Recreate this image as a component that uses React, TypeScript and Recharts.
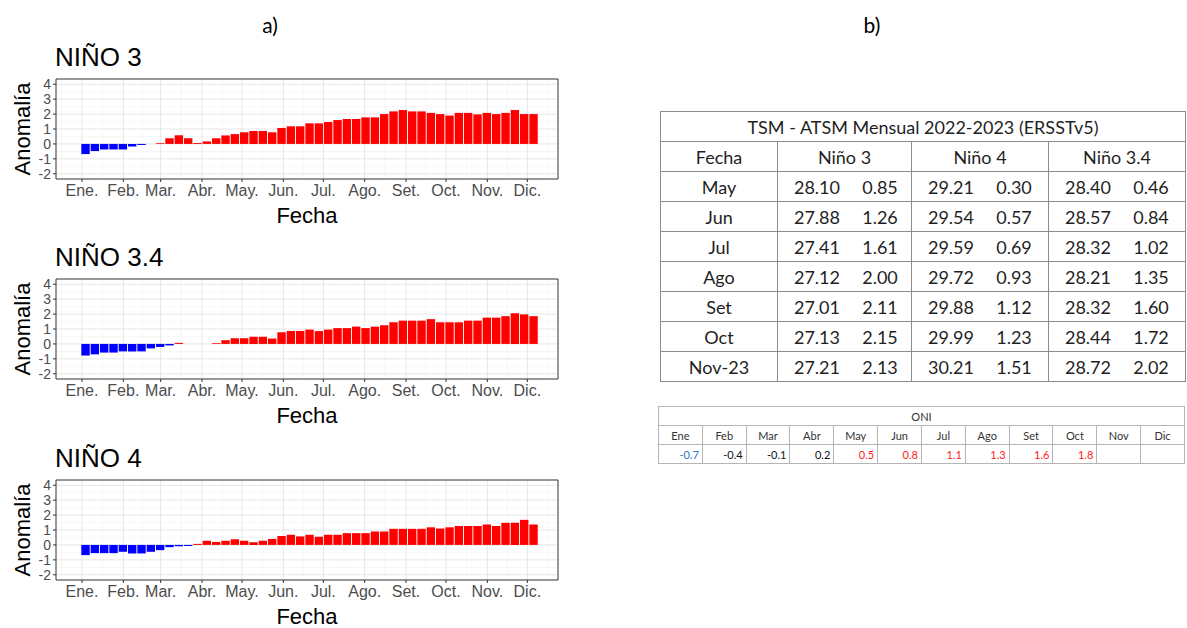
import React from "react";
import { BarChart, Bar, XAxis, YAxis, CartesianGrid, ReferenceArea, Cell, Label } from "recharts";

const FONT_R = "'Liberation Sans', Arial, Helvetica, sans-serif";
const FONT_T = "Lato, 'Open Sans', sans-serif";

// x axis: day of year 2023, month breaks
const monthLabels = ["Ene.", "Feb.", "Mar.", "Abr.", "May.", "Jun.", "Jul.", "Ago.", "Set.", "Oct.", "Nov.", "Dic."];
const monthStarts = [0, 31, 59, 90, 120, 151, 181, 212, 243, 273, 304, 334];
const yTicks = [-2, -1, 0, 1, 2, 3, 4];

// weekly anomalies (weeks centred on Wednesdays, 04-Ene to 06-Dic)
const nino3 = [
  -0.68, -0.48, -0.37, -0.37, -0.37, -0.18, -0.07, 0, 0.05, 0.38, 0.58, 0.38, 0.06, 0.17, 0.38, 0.57,
  0.66, 0.78, 0.87, 0.87, 0.78, 1.07, 1.18, 1.18, 1.38, 1.38, 1.47, 1.6, 1.67, 1.67, 1.78, 1.78, 2.0,
  2.18, 2.27, 2.18, 2.18, 2.08, 2.0, 1.9, 2.08, 2.08, 1.98, 2.08, 2.0, 2.08, 2.27, 2.0, 2.0,
];
const nino34 = [
  -0.78, -0.7, -0.58, -0.58, -0.5, -0.5, -0.5, -0.3, -0.2, -0.1, 0.07, 0, 0, 0, 0.05, 0.25, 0.38,
  0.38, 0.48, 0.48, 0.36, 0.78, 0.87, 0.87, 0.96, 0.86, 0.96, 1.06, 1.06, 1.16, 1.06, 1.16, 1.25,
  1.45, 1.56, 1.56, 1.56, 1.66, 1.45, 1.45, 1.45, 1.56, 1.56, 1.76, 1.76, 1.86, 2.06, 1.98, 1.86,
];
const nino4 = [
  -0.68, -0.55, -0.55, -0.55, -0.46, -0.57, -0.57, -0.46, -0.35, -0.15, -0.09, -0.07, 0.07, 0.28,
  0.2, 0.28, 0.38, 0.28, 0.18, 0.28, 0.4, 0.6, 0.68, 0.57, 0.68, 0.55, 0.68, 0.68, 0.79, 0.79, 0.79,
  0.9, 0.9, 1.08, 1.08, 1.08, 1.08, 1.18, 1.1, 1.18, 1.27, 1.27, 1.27, 1.37, 1.27, 1.48, 1.48, 1.68, 1.37,
];
const weekDays = nino3.map((_, i) => 3 + 7 * i);

// table b)
const tableMonths = ["May", "Jun", "Jul", "Ago", "Set", "Oct", "Nov-23"];
const nino3Tsm = ["28.10", "27.88", "27.41", "27.12", "27.01", "27.13", "27.21"];
const nino3Atsm = ["0.85", "1.26", "1.61", "2.00", "2.11", "2.15", "2.13"];
const nino4Tsm = ["29.21", "29.54", "29.59", "29.72", "29.88", "29.99", "30.21"];
const nino4Atsm = ["0.30", "0.57", "0.69", "0.93", "1.12", "1.23", "1.51"];
const nino34Tsm = ["28.40", "28.57", "28.32", "28.21", "28.32", "28.44", "28.72"];
const nino34Atsm = ["0.46", "0.84", "1.02", "1.35", "1.60", "1.72", "2.02"];

const oniMonths = ["Ene", "Feb", "Mar", "Abr", "May", "Jun", "Jul", "Ago", "Set", "Oct", "Nov", "Dic"];
const oniValues: (number | null)[] = [-0.7, -0.4, -0.1, 0.2, 0.5, 0.8, 1.1, 1.3, 1.6, 1.8, null, null];

const X_DOMAIN: [number, number] = [-19.5, 357];
const Y_DOMAIN: [number, number] = [-2.35, 4.35];
const minorX = [-15.5, ...monthStarts.slice(0, -1).map((m, i) => (m + monthStarts[i + 1]) / 2), 349.5];
const minorY = [-1.5, -0.5, 0.5, 1.5, 2.5, 3.5];

function AnomalyPanel({ title, values, top }: { title: string; values: number[]; top: number }) {
  const data = weekDays.map((d, i) => ({ day: d, anom: values[i] }));
  return (
    <div style={{ position: "absolute", left: 0, top, width: 565, height: 200 }}>
      <div style={{ position: "absolute", left: 55, top: 1, fontFamily: FONT_R, fontSize: 26, lineHeight: "30px", color: "#000" }}>
        {title}
      </div>
      <div style={{ position: "absolute", left: 0, top: 29 }}>
        <BarChart width={565} height={162} data={data} margin={{ top: 9, right: 7, bottom: 0, left: 0 }}>
          <CartesianGrid horizontalValues={minorY} verticalValues={minorX} stroke="#F2F2F2" strokeWidth={0.6} />
          <CartesianGrid horizontalValues={yTicks} verticalValues={monthStarts} stroke="#E6E6E6" strokeWidth={1} />
          <XAxis
            type="number"
            dataKey="day"
            domain={X_DOMAIN}
            ticks={monthStarts}
            interval={0}
            allowDataOverflow
            tickFormatter={(v: number) => monthLabels[monthStarts.indexOf(v)]}
            axisLine={false}
            tickLine={{ stroke: "#333" }}
            tickSize={3}
            tickMargin={3}
            height={53}
            tick={{ fontSize: 16, fill: "#4D4D4D", fontFamily: FONT_R }}
          >
            <Label
              content={(p: any) => {
                const vb = p.viewBox || { x: 56, y: 109, width: 502, height: 53 };
                return (
                  <text
                    x={vb.x + vb.width / 2}
                    y={vb.y + 36}
                    textAnchor="middle"
                    dominantBaseline="central"
                    fontSize={22}
                    fontFamily={FONT_R}
                    fill="#000"
                  >
                    Fecha
                  </text>
                );
              }}
            />
          </XAxis>
          <YAxis
            domain={Y_DOMAIN}
            ticks={yTicks}
            interval={0}
            allowDataOverflow
            axisLine={false}
            tickLine={{ stroke: "#333" }}
            tickSize={3}
            tickMargin={2}
            width={56}
            tick={{ fontSize: 14, fill: "#4D4D4D", fontFamily: FONT_R }}
          >
            <Label
              content={(p: any) => {
                const vb = p.viewBox || { x: 0, y: 9, width: 56, height: 100 };
                const cx = vb.x + 22;
                const cy = vb.y + vb.height / 2;
                return (
                  <text
                    x={cx}
                    y={cy}
                    transform={`rotate(-90 ${cx} ${cy})`}
                    textAnchor="middle"
                    dominantBaseline="central"
                    fontSize={22}
                    fontFamily={FONT_R}
                    fill="#000"
                  >
                    Anomalía
                  </text>
                );
              }}
            />
          </YAxis>
          <Bar dataKey="anom" barSize={8.4} isAnimationActive={false}>
            {data.map((d, i) => (
              <Cell key={i} fill={d.anom < 0 ? "#0000FF" : "#FF0000"} />
            ))}
          </Bar>
          <ReferenceArea
            x1={X_DOMAIN[0]}
            x2={X_DOMAIN[1]}
            y1={Y_DOMAIN[0]}
            y2={Y_DOMAIN[1]}
            fill="none"
            fillOpacity={0}
            stroke="#333"
            strokeWidth={1}
            ifOverflow="visible"
          />
        </BarChart>
      </div>
    </div>
  );
}

const cell: React.CSSProperties = { border: "1px solid #8c8c8c", padding: 0, textAlign: "center", height: 29 };

function PairCell({ a, b }: { a: string; b: string }) {
  return (
    <td style={cell}>
      <div style={{ display: "flex", justifyContent: "flex-start" }}>
        <span style={{ width: 60, marginLeft: 9, textAlign: "center" }}>{a}</span>
        <span style={{ width: 60, marginLeft: 3, textAlign: "center" }}>{b}</span>
      </div>
    </td>
  );
}

function oniColor(v: number | null) {
  if (v === null) return "#333";
  if (v <= -0.5) return "#2E75D6";
  if (v >= 0.5) return "#FF2020";
  return "#111";
}

export default function App() {
  const oniCell: React.CSSProperties = { border: "1px solid #b5b5b5", padding: "0 3px", height: 18, fontSize: 11 };
  return (
    <div style={{ position: "absolute", left: 0, top: 0, width: 1187, height: 628, background: "#fff", overflow: "hidden" }}>
      <div style={{ position: "absolute", left: 250, top: 12, width: 40, textAlign: "center", fontFamily: FONT_T, fontSize: 21, color: "#000" }}>a)</div>
      <div style={{ position: "absolute", left: 852, top: 12, width: 40, textAlign: "center", fontFamily: FONT_T, fontSize: 21, color: "#000" }}>b)</div>

      <AnomalyPanel title="NIÑO 3" values={nino3} top={41} />
      <AnomalyPanel title="NIÑO 3.4" values={nino34} top={241} />
      <AnomalyPanel title="NIÑO 4" values={nino4} top={442} />

      <table
        style={{
          position: "absolute",
          left: 660,
          top: 111,
          width: 525,
          borderCollapse: "collapse",
          tableLayout: "fixed",
          fontFamily: FONT_T,
          fontSize: 18,
          color: "#1f1f1f",
        }}
      >
        <colgroup>
          <col style={{ width: 117 }} />
          <col style={{ width: 134 }} />
          <col style={{ width: 137 }} />
          <col style={{ width: 137 }} />
        </colgroup>
        <tbody>
          <tr>
            <td colSpan={4} style={cell}>TSM - ATSM Mensual 2022-2023 (ERSSTv5)</td>
          </tr>
          <tr>
            <td style={cell}>Fecha</td>
            <td style={cell}>Niño 3</td>
            <td style={cell}>Niño 4</td>
            <td style={cell}>Niño 3.4</td>
          </tr>
          {tableMonths.map((m, i) => (
            <tr key={m}>
              <td style={cell}>{m}</td>
              <PairCell a={nino3Tsm[i]} b={nino3Atsm[i]} />
              <PairCell a={nino4Tsm[i]} b={nino4Atsm[i]} />
              <PairCell a={nino34Tsm[i]} b={nino34Atsm[i]} />
            </tr>
          ))}
        </tbody>
      </table>

      <table
        style={{
          position: "absolute",
          left: 658,
          top: 406,
          width: 527,
          borderCollapse: "collapse",
          tableLayout: "fixed",
          fontFamily: FONT_T,
          color: "#333",
        }}
      >
        <tbody>
          <tr>
            <td colSpan={12} style={{ ...oniCell, textAlign: "center" }}>ONI</td>
          </tr>
          <tr>
            {oniMonths.map((m) => (
              <td key={m} style={{ ...oniCell, textAlign: "center" }}>{m}</td>
            ))}
          </tr>
          <tr>
            {oniValues.map((v, i) => (
              <td key={i} style={{ ...oniCell, textAlign: "right", color: oniColor(v) }}>
                {v === null ? "" : v.toFixed(1)}
              </td>
            ))}
          </tr>
        </tbody>
      </table>
    </div>
  );
}
